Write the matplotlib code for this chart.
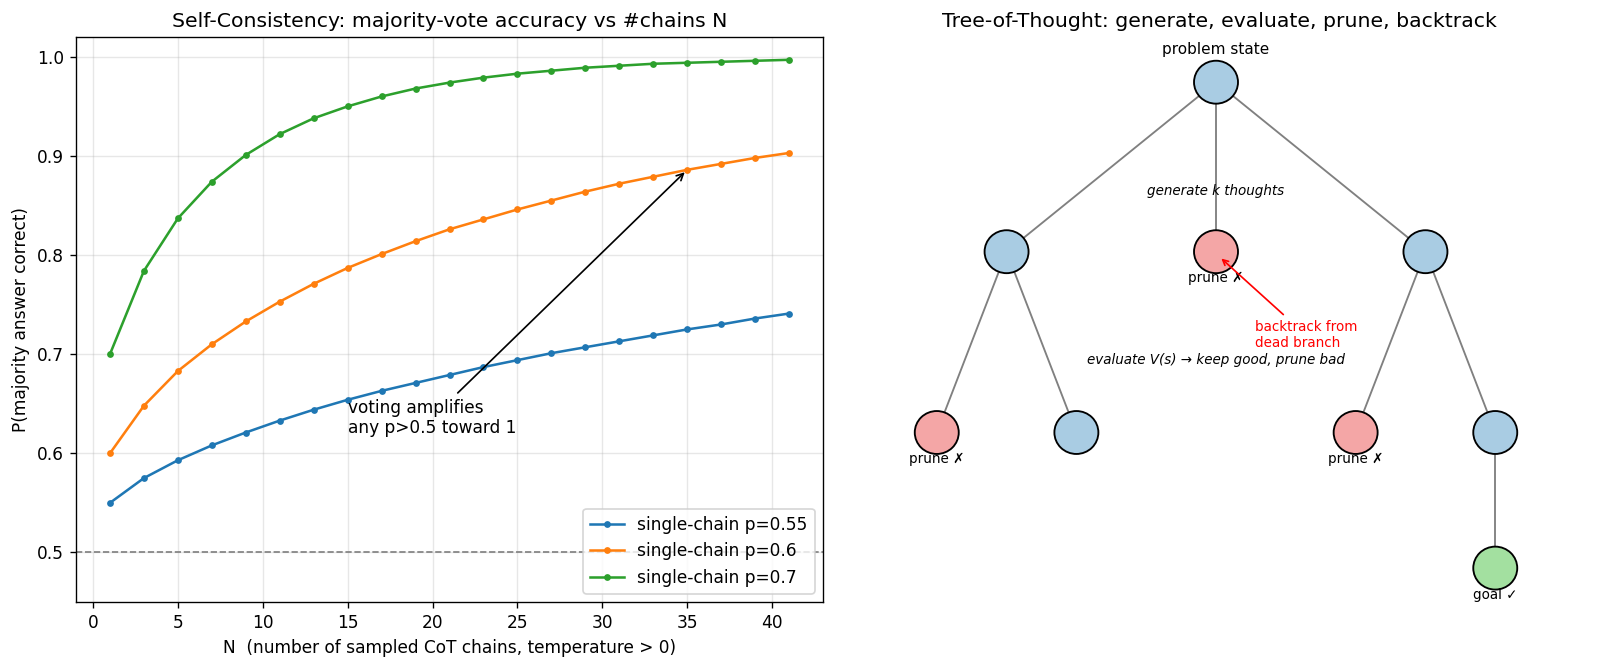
import numpy as np
import matplotlib.pyplot as plt
from matplotlib.patches import Ellipse

# =============================================================================
# Self-consistency data
# =============================================================================
n_chains = list(range(1, 42, 2))
acc_p055 = [0.550, 0.575, 0.593, 0.608, 0.621, 0.633, 0.644, 0.654, 0.663, 0.671, 0.679,
            0.687, 0.694, 0.701, 0.707, 0.713, 0.719, 0.725, 0.730, 0.736, 0.741]
acc_p06 = [0.600, 0.648, 0.683, 0.710, 0.733, 0.753, 0.771, 0.787, 0.801, 0.814, 0.826,
           0.836, 0.846, 0.855, 0.864, 0.872, 0.879, 0.886, 0.892, 0.898, 0.903]
acc_p07 = [0.700, 0.784, 0.837, 0.874, 0.901, 0.922, 0.938, 0.950, 0.960, 0.968, 0.974,
           0.979, 0.983, 0.986, 0.989, 0.991, 0.993, 0.994, 0.995, 0.996, 0.997]
series_labels = ["single-chain p=0.55", "single-chain p=0.6", "single-chain p=0.7"]

# =============================================================================
# Tree-of-thought nodes
# =============================================================================
node_x = [5, 2, 5, 8, 1, 3, 7, 9, 9]
node_y = [9.2, 6.2, 6.2, 6.2, 3.0, 3.0, 3.0, 3.0, 0.6]
node_kind = ["ok", "ok", "bad", "ok", "bad", "ok", "bad", "ok", "goal"]
edges = [(0, 1), (0, 2), (0, 3), (1, 4), (1, 5), (3, 6), (3, 7), (7, 8)]

kind_color = {"ok": "#a9cce3", "bad": "#f4a6a6", "goal": "#a3e0a0"}

DPI = 122
fig = plt.figure(figsize=(1600 / DPI, 667 / DPI), dpi=DPI)
ax1 = fig.add_axes([76 / 1600, 65 / 667, 747 / 1600, 565 / 667])
ax2 = fig.add_axes([846 / 1600, 65 / 667, 747 / 1600, 565 / 667])

# ---- left panel
for acc, lab in zip([acc_p055, acc_p06, acc_p07], series_labels):
    ax1.plot(n_chains, acc, marker='o', ms=3, label=lab)
ax1.axhline(0.5, color='gray', linestyle='--', linewidth=1)
ax1.annotate("voting amplifies\nany p>0.5 toward 1", xy=(35, acc_p06[17]), xytext=(15, 0.62),
             arrowprops=dict(arrowstyle='->', color='black'))
ax1.set_xlim(-1, 43)
ax1.set_ylim(0.45, 1.02)
ax1.grid(alpha=0.3)
ax1.set_xlabel("N  (number of sampled CoT chains, temperature > 0)")
ax1.set_ylabel("P(majority answer correct)")
ax1.set_title("Self-Consistency: majority-vote accuracy vs #chains N")
ax1.legend(loc='lower right')

# ---- right panel
for a, b in edges:
    ax2.plot([node_x[a], node_x[b]], [node_y[a], node_y[b]], color='gray', lw=1.1, zorder=1)
for x, y, k in zip(node_x, node_y, node_kind):
    ax2.add_patch(Ellipse((x, y), 0.63, 0.76, facecolor=kind_color[k],
                          edgecolor='black', lw=1.1, zorder=3))
    if k == "bad":
        ax2.text(x, y - 0.47, "prune ✗", ha='center', va='center', fontsize=8)
ax2.text(5, 9.77, "problem state", ha='center', va='center', fontsize=9)
ax2.text(9, 0.12, "goal ✓", ha='center', va='center', fontsize=8)
ax2.text(5, 7.27, "generate k thoughts", ha='center', va='center', fontsize=8, style='italic')
ax2.text(5, 4.28, "evaluate V(s) → keep good, prune bad", ha='center', va='center',
         fontsize=8, style='italic')
ax2.annotate("backtrack from\ndead branch", xy=(5.04, 6.12), xytext=(5.56, 4.72),
             color='red', fontsize=8, va='center',
             arrowprops=dict(arrowstyle='->', color='red'))
ax2.set_xlim(-0.3, 10.4)
ax2.set_ylim(0, 10)
ax2.axis('off')
ax2.set_title("Tree-of-Thought: generate, evaluate, prune, backtrack")

fig.savefig("out.png", dpi=DPI)
